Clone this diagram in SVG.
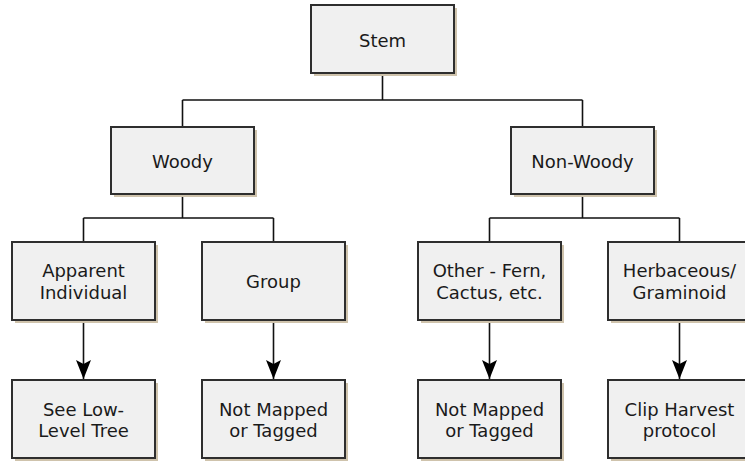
<svg xmlns="http://www.w3.org/2000/svg" width="745" height="461" viewBox="0 0 745 461">
<style>
.shadow{fill:#cfc3ac;}
.box{fill:#f0f0f0;stroke:#2e2e2e;stroke-width:2;}
.lbl{font-family:"DejaVu Sans","Liberation Sans",sans-serif;font-size:18px;fill:#1a1a1a;text-anchor:middle;}
.conn{fill:none;stroke:#111;stroke-width:1.6;}
</style>
<defs>
<marker id="arr" markerUnits="userSpaceOnUse" markerWidth="20" markerHeight="16" viewBox="0 0 20 16" refX="19" refY="8" orient="auto">
<path d="M0,0.5 L19,8 L0,15.5 L4,8 Z" fill="#000"/>
</marker>
</defs>
<rect width="745" height="461" fill="#ffffff"/>
<g id="connectors">
<path class="conn" d="M382.5,73 V100 M182.5,100 H582.5 M182.5,100 V127 M582.5,100 V127"/>
<path class="conn" d="M182.5,194 V218 M83.5,218 H273.5 M83.5,218 V242 M273.5,218 V242"/>
<path class="conn" d="M582.5,194 V218 M489.5,218 H679.5 M489.5,218 V242 M679.5,218 V242"/>
<line class="conn" x1="83.5" y1="320" x2="83.5" y2="379" marker-end="url(#arr)"/>
<line class="conn" x1="273.5" y1="320" x2="273.5" y2="379" marker-end="url(#arr)"/>
<line class="conn" x1="489.5" y1="320" x2="489.5" y2="379" marker-end="url(#arr)"/>
<line class="conn" x1="679.5" y1="320" x2="679.5" y2="379" marker-end="url(#arr)"/>
</g>
<g id="stem">
<rect class="shadow" x="314" y="8" width="143" height="68"/>
<rect class="box" x="311" y="5" width="143" height="68"/>
<text class="lbl" x="382.5" y="47">Stem</text>
</g>
<g id="woody">
<rect class="shadow" x="114" y="130" width="143" height="67"/>
<rect class="box" x="111" y="127" width="143" height="67"/>
<text class="lbl" x="182.5" y="168">Woody</text>
</g>
<g id="non-woody">
<rect class="shadow" x="514" y="130" width="143" height="67"/>
<rect class="box" x="511" y="127" width="143" height="67"/>
<text class="lbl" x="582.5" y="168">Non-Woody</text>
</g>
<g id="apparent-individual">
<rect class="shadow" x="15" y="245" width="143" height="78"/>
<rect class="box" x="12" y="242" width="143" height="78"/>
<text class="lbl" x="83.5" y="277">Apparent</text>
<text class="lbl" x="83.5" y="299">Individual</text>
</g>
<g id="group">
<rect class="shadow" x="205" y="245" width="143" height="78"/>
<rect class="box" x="202" y="242" width="143" height="78"/>
<text class="lbl" x="273.5" y="288">Group</text>
</g>
<g id="other">
<rect class="shadow" x="421" y="245" width="143" height="78"/>
<rect class="box" x="418" y="242" width="143" height="78"/>
<text class="lbl" x="489.5" y="277">Other - Fern,</text>
<text class="lbl" x="489.5" y="299">Cactus, etc.</text>
</g>
<g id="herbaceous">
<rect class="shadow" x="611" y="245" width="143" height="78"/>
<rect class="box" x="608" y="242" width="143" height="78"/>
<text class="lbl" x="679.5" y="277">Herbaceous/</text>
<text class="lbl" x="679.5" y="299">Graminoid</text>
</g>
<g id="see-low-level-tree">
<rect class="shadow" x="15" y="383" width="143" height="78"/>
<rect class="box" x="12" y="380" width="143" height="78"/>
<text class="lbl" x="83.5" y="416">See Low-</text>
<text class="lbl" x="83.5" y="437">Level Tree</text>
</g>
<g id="not-mapped-1">
<rect class="shadow" x="205" y="383" width="143" height="78"/>
<rect class="box" x="202" y="380" width="143" height="78"/>
<text class="lbl" x="273.5" y="416">Not Mapped</text>
<text class="lbl" x="273.5" y="437">or Tagged</text>
</g>
<g id="not-mapped-2">
<rect class="shadow" x="421" y="383" width="143" height="78"/>
<rect class="box" x="418" y="380" width="143" height="78"/>
<text class="lbl" x="489.5" y="416">Not Mapped</text>
<text class="lbl" x="489.5" y="437">or Tagged</text>
</g>
<g id="clip-harvest">
<rect class="shadow" x="611" y="383" width="143" height="78"/>
<rect class="box" x="608" y="380" width="143" height="78"/>
<text class="lbl" x="679.5" y="416">Clip Harvest</text>
<text class="lbl" x="679.5" y="437">protocol</text>
</g>
</svg>
